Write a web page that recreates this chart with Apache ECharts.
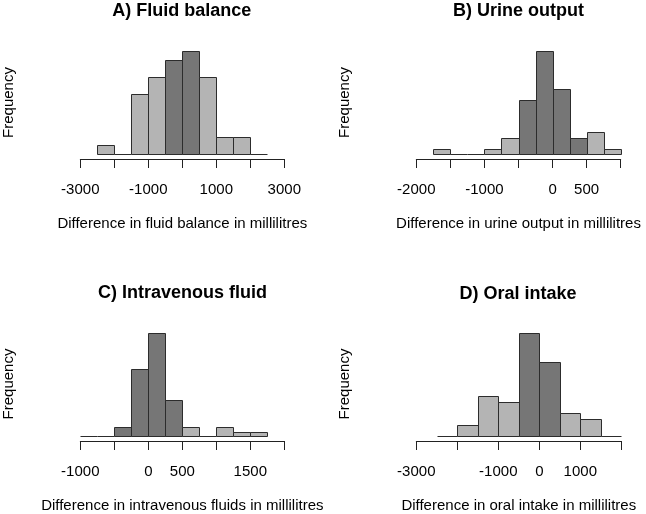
<!DOCTYPE html>
<html>
<head>
<meta charset="utf-8">
<script src="https://cdn.jsdelivr.net/npm/echarts@6/dist/echarts.min.js"></script>
<style>
html,body{margin:0;padding:0;background:#fff;}
#chart{width:646px;height:514px;}
</style>
</head>
<body>
<div id="chart"></div>
<script>
// ---- Data ----
const titles = ['A) Fluid balance', 'B) Urine output', 'C) Intravenous fluid', 'D) Oral intake'];
const xNames = [
  'Difference in fluid balance in millilitres',
  'Difference in urine output in millilitres',
  'Difference in intravenous fluids in millilitres',
  'Difference in oral intake in millilitres'
];
const yName = 'Frequency';
// Panel A: bins of 500 ml
const binsA = [-2500, -2000, -1500, -1000, -500, 0, 500, 1000, 1500, 2000, 2500];
const countsA = [1, 0, 7, 9, 11, 12, 9, 2, 2, 0];
// Panel B: bins of 250 ml
const binsB = [-1750, -1500, -1250, -1000, -750, -500, -250, 0, 250, 500, 750, 1000];
const countsB = [1, 0, 0, 1, 3, 10, 19, 12, 3, 4, 1];
// Panel C: bins of 250 ml
const binsC = [-1000, -750, -500, -250, 0, 250, 500, 750, 1000, 1250, 1500, 1750];
const countsC = [0, 0, 2, 15, 23, 8, 2, 0, 2, 1, 1];
// Panel D: bins of 500 ml
const binsD = [-2500, -2000, -1500, -1000, -500, 0, 500, 1000, 1500, 2000];
const countsD = [0, 2, 7, 6, 18, 13, 4, 3, 0];
// Axis ranges and tick labels
const axisMin = [-3000, -2000, -1000, -3000];
const axisMax = [3000, 1000, 2000, 2000];
const axisStep = [1000, 500, 500, 1000];
const tickLabelsA = [-3000, -1000, 1000, 3000];
const tickLabelsB = [-2000, -1000, 0, 500];
const tickLabelsC = [-1000, 0, 500, 1500];
const tickLabelsD = [-3000, -1000, 0, 1000];

const bins = [binsA, binsB, binsC, binsD];
const counts = [countsA, countsB, countsC, countsD];
const tickLabels = [tickLabelsA, tickLabelsB, tickLabelsC, tickLabelsD];

// ---- Layout ----
// bars occupy PLOT_H px; the axis line sits GAP px below the bar baseline
const PLOT_H = 103;
const GAP = 5;
const grids = [
  {left: 80.3, top: 51, width: 204, height: PLOT_H + GAP},
  {left: 416.3, top: 51, width: 204.4, height: PLOT_H + GAP},
  {left: 80.3, top: 333, width: 204, height: PLOT_H + GAP},
  {left: 416.3, top: 333, width: 205, height: PLOT_H + GAP}
];
const titlePos = [[181.7, 11], [518.5, 11], [182.5, 293.5], [518, 294]];
const yNamePos = [[8.5, 102.5], [345, 102.5], [8.5, 384], [345, 384]];

const FONT = 'Liberation Sans, Arial, Helvetica, sans-serif';
const LIGHT = '#b4b4b4';
const DARK = '#767676';
const EDGE = '#2c2c2c';

function makeData(b, c) {
  const d = [];
  for (let i = 0; i < c.length; i++) d.push([b[i], b[i + 1], c[i]]);
  return d;
}

function renderBar(params, api) {
  const x0 = api.value(0), x1 = api.value(1), n = api.value(2);
  const pTop = api.coord([x0, n]);
  const pBase = api.coord([x1, 0]);
  const left = Math.round(pTop[0]) + 0.5;
  const right = Math.round(pBase[0]) + 0.5;
  const base = Math.round(pBase[1]) + 0.5;
  const top = Math.round(pTop[1]) + 0.5;
  if (n === 0) {
    return {
      type: 'line',
      shape: {x1: left, y1: base, x2: right, y2: base},
      style: {stroke: EDGE, lineWidth: 1}
    };
  }
  const dark = x0 >= -500 && x1 <= 500;
  return {
    type: 'rect',
    shape: {x: left, y: top, width: right - left, height: base - top},
    style: {fill: dark ? DARK : LIGHT, stroke: EDGE, lineWidth: 1}
  };
}

const titleGraphics = titles.map((t, i) => ({
  type: 'text',
  x: titlePos[i][0],
  y: titlePos[i][1],
  style: {
    text: t,
    font: 'bold 18px ' + FONT,
    fill: '#000',
    textAlign: 'center',
    textVerticalAlign: 'middle'
  }
}));
const yNameGraphics = yNamePos.map(p => ({
  type: 'text',
  x: p[0],
  y: p[1],
  rotation: Math.PI / 2,
  style: {
    text: yName,
    font: '15px ' + FONT,
    fill: '#000',
    textAlign: 'center',
    textVerticalAlign: 'middle'
  }
}));

const option = {
  backgroundColor: '#ffffff',
  animation: false,
  grid: grids.map(g => Object.assign({containLabel: false}, g)),
  xAxis: grids.map((g, i) => ({
    type: 'value',
    gridIndex: i,
    min: axisMin[i],
    max: axisMax[i],
    interval: axisStep[i],
    name: xNames[i],
    nameLocation: 'middle',
    nameGap: 57,
    nameTextStyle: {fontFamily: FONT, fontSize: 15, color: '#000'},
    axisLine: {show: true, onZero: false, lineStyle: {color: '#222', width: 1}},
    axisTick: {show: true, length: 9, lineStyle: {color: '#222', width: 1}},
    splitLine: {show: false},
    axisLabel: {
      show: true,
      interval: 0,
      hideOverlap: false,
      showMinLabel: true,
      showMaxLabel: true,
      margin: 23,
      fontFamily: FONT,
      fontSize: 15,
      color: '#000',
      formatter: v => (tickLabels[i].indexOf(v) >= 0 ? String(v) : '')
    }
  })),
  yAxis: grids.map((g, i) => {
    const top = Math.max.apply(null, counts[i]);
    return {
      type: 'value',
      gridIndex: i,
      min: -top * GAP / PLOT_H,
      max: top,
      axisLine: {show: false},
      axisTick: {show: false},
      axisLabel: {show: false},
      splitLine: {show: false}
    };
  }),
  series: grids.map((g, i) => ({
    type: 'custom',
    xAxisIndex: i,
    yAxisIndex: i,
    renderItem: renderBar,
    encode: {x: [0, 1], y: 2},
    data: makeData(bins[i], counts[i])
  })),
  graphic: titleGraphics.concat(yNameGraphics)
};

const chart = echarts.init(document.getElementById('chart'), null, {renderer: 'canvas'});
chart.setOption(option);
</script>
</body>
</html>
